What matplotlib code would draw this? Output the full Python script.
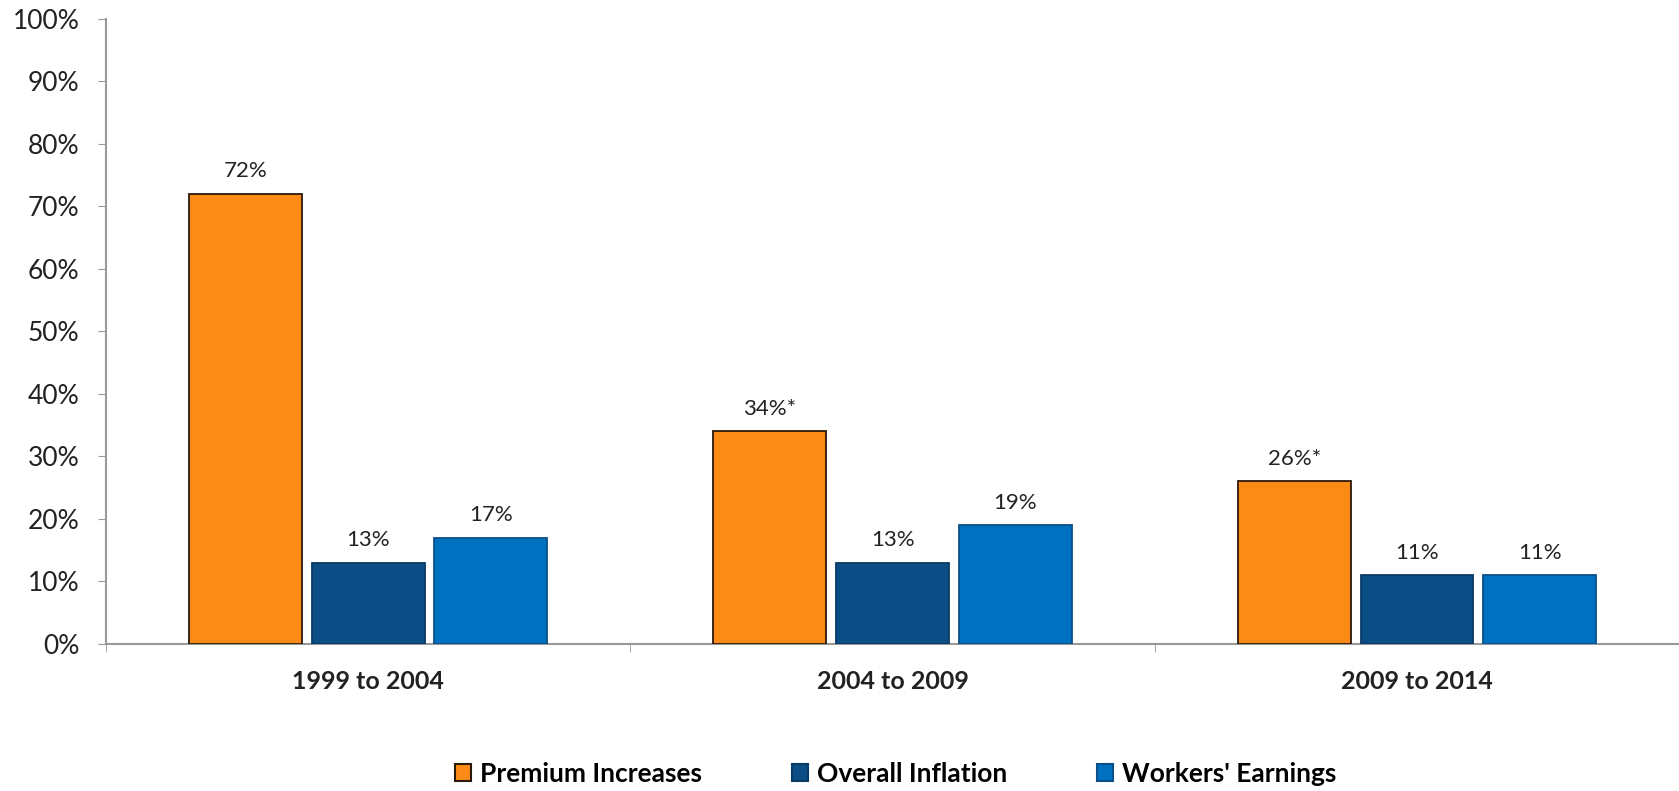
import matplotlib
matplotlib.use("Agg")
import matplotlib.pyplot as plt
from matplotlib.patches import Patch
import numpy as np

plt.rcParams["font.family"] = ["Lato", "DejaVu Sans"]

# data
periods = ["1999 to 2004", "2004 to 2009", "2009 to 2014"]
series_names = ["Premium Increases", "Overall Inflation", "Workers' Earnings"]
premium = [72, 34, 26]
inflation = [13, 13, 11]
earnings = [17, 19, 11]
premium_labels = ["72%", "34%*", "26%*"]
inflation_labels = ["13%", "13%", "11%"]
earnings_labels = ["17%", "19%", "11%"]

colors = ["#FB8A16", "#0B4E86", "#0071C1"]
edges = ["#2a1a0a", "#083a66", "#0a4f8a"]

fig = plt.figure(figsize=(16.79, 7.91), dpi=100)
ax = fig.add_axes([0.0631, 0.186, 0.937, 0.790])

x = np.arange(len(periods))
step = 0.234
width = 0.215

# grouped bars + value labels on top
all_vals = [premium, inflation, earnings]
all_labels = [premium_labels, inflation_labels, earnings_labels]
for i, (vals, labs) in enumerate(zip(all_vals, all_labels)):
    bars = ax.bar(x + (i - 1) * step, vals, width, color=colors[i],
                  edgecolor=edges[i], linewidth=1.3, zorder=3)
    for b, lab in zip(bars, labs):
        ax.annotate(lab, (b.get_x() + b.get_width() / 2, b.get_height()),
                    xytext=(0, 9), textcoords="offset points",
                    ha="center", va="bottom", fontsize=16, color="#222222")

ax.set_xlim(-0.5, 2.5)
ax.set_ylim(0, 100)
ax.set_yticks(range(0, 101, 10))
ax.set_yticklabels([f"{v}%" for v in range(0, 101, 10)], fontsize=19, color="#222222")
ax.set_xticks(x)
ax.set_xticklabels(periods, fontsize=18, fontweight="bold", color="#222222")
ax.tick_params(axis="x", which="major", length=0, pad=19)
# little ticks between the groups
ax.set_xticks([-0.5, 0.5, 1.5, 2.5], minor=True)
ax.tick_params(axis="x", which="minor", length=6, color="#999999")
ax.tick_params(axis="y", length=6, color="#999999", pad=13)

for s in ["top", "right"]:
    ax.spines[s].set_visible(False)
for s in ["left", "bottom"]:
    ax.spines[s].set_color("#999999")
    ax.spines[s].set_linewidth(1.5)

handles = [Patch(facecolor=c, edgecolor=e, linewidth=1.5) for c, e in zip(colors, edges)]
fig.legend(handles, series_names, loc="center left", bbox_to_anchor=(455 / 1679, 0.022),
           ncol=3, frameon=False, borderpad=0, borderaxespad=0,
           handlelength=0.6, handleheight=0.6,
           handletextpad=0.35, columnspacing=3.4,
           prop={"size": 19, "weight": "bold"})

fig.savefig("out.png", dpi=100)
